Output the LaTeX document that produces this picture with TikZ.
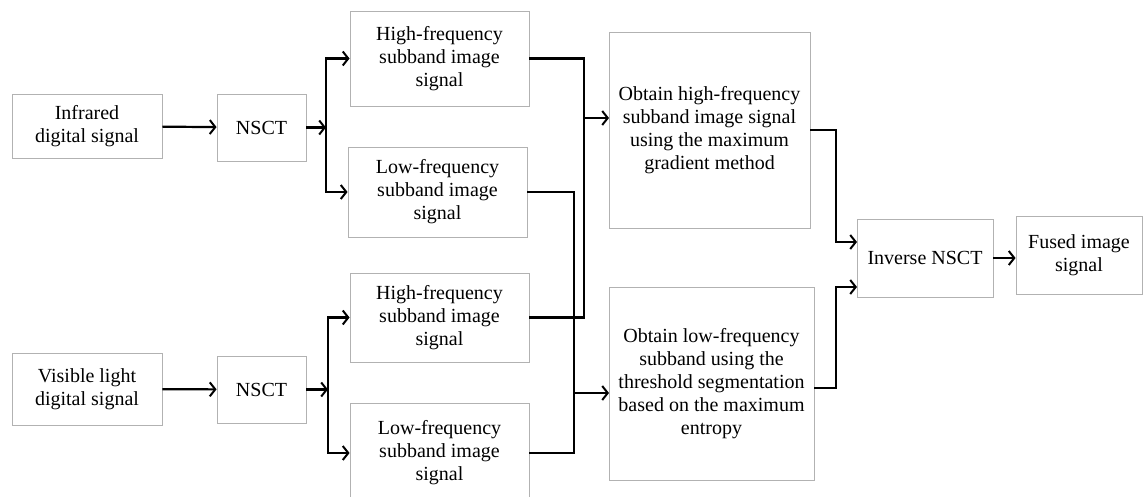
\documentclass[tikz,border=0pt]{standalone}
\usepackage{fontspec}
\setmainfont{Liberation Serif}
\usetikzlibrary{arrows.meta}

\begin{document}
\begin{tikzpicture}[x=1pt, y=-1pt,
    box/.style={draw=black!30, line width=0.9pt, align=center, inner sep=0pt,
      font=\fontsize{20}{23}\selectfont},
    flow/.style={line width=2.2pt},
    arr/.style={flow, -{Straight Barb[length=5.5pt, width=14pt, line width=2pt]}}]
  \useasboundingbox (0,0) rectangle (1145,497);

  % inputs and transforms
  \node[box, minimum width=150pt, minimum height=64pt] (ir) at (87,126) {Infrared\\digital signal};
  \node[box, minimum width=89pt, minimum height=67pt] (nsct1) at (261.5,127.5) {NSCT};
  \node[box, minimum width=150pt, minimum height=72pt] (vis) at (87,389) {Visible light\\digital signal};
  \node[box, minimum width=89pt, minimum height=67pt] (nsct2) at (261.5,389.5) {NSCT};

  % subbands
  \node[box, minimum width=179pt, minimum height=95pt] (hf1) at (439.5,58.5) {High-frequency\\subband image\\signal};
  \node[box, minimum width=179pt, minimum height=90pt] (lf1) at (437.5,192) {Low-frequency\\subband image\\signal};
  \node[box, minimum width=179pt, minimum height=89pt] (hf2) at (439.5,317.5) {High-frequency\\subband image\\signal};
  \node[box, minimum width=179pt, minimum height=100pt] (lf2) at (439.5,453) {Low-frequency\\subband image\\signal};

  % fusion rules
  \node[box, minimum width=201pt, minimum height=196pt] (ohf) at (709.5,130)
    {Obtain high-frequency\\subband image signal\\using the maximum\\gradient method};
  \node[box, minimum width=205pt, minimum height=193pt] (olf) at (711.5,383.5)
    {Obtain low-frequency\\subband using the\\threshold segmentation\\based on the maximum\\entropy};

  % output
  \node[box, minimum width=136pt, minimum height=78pt] (inv) at (925,258) {Inverse NSCT};
  \node[box, minimum width=126pt, minimum height=78pt] (fused) at (1079,255) {Fused image\\signal};

  \coordinate (j1) at (326,127.5);
  \coordinate (j2) at (328,389.5);
  \coordinate (hbus) at (584,0);
  \coordinate (lbus) at (574,0);
  \coordinate (obus) at (836,0);
  \coordinate (hin) at (609,118);
  \coordinate (lin) at (609,393);
  \coordinate (ihi) at (857,242);
  \coordinate (ilo) at (857,287);

  \draw[arr] (ir) -- (nsct1);
  \draw[arr] (nsct1) -- (j1);
  \draw[arr] (j1) |- (hf1);
  \draw[arr] (j1) |- (lf1);
  \draw[arr] (vis) -- (nsct2);
  \draw[arr] (nsct2) -- (j2);
  \draw[arr] (j2) |- (hf2);
  \draw[arr] (j2) |- (lf2);

  \draw[flow] (hf1.east) -| (hbus |- hf2.east) -- (hf2.east);
  \draw[flow] (lf1.east) -| (lbus |- lf2.east) -- (lf2.east);
  \draw[arr] (hbus |- hin) -- (hin);
  \draw[arr] (lbus |- lin) -- (lin);

  \draw[arr] (ohf.east) -| (obus |- ihi) -- (ihi);
  \draw[arr] ([yshift=-4.5pt]olf.east) -| (obus |- ilo) -- (ilo);
  \draw[arr] (inv) -- (inv -| fused.west);
\end{tikzpicture}
\end{document}
